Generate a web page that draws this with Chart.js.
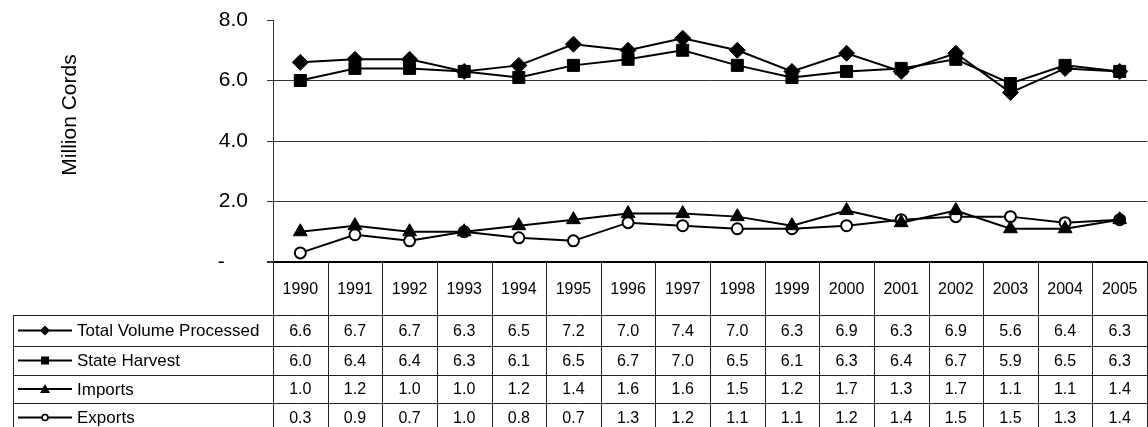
<!DOCTYPE html>
<html>
<head>
<meta charset="utf-8">
<script src="https://cdn.jsdelivr.net/npm/chart.js@4/dist/chart.umd.min.js"></script>
<style>
html,body{margin:0;padding:0;background:#fff;}
canvas{display:block;}
</style>
</head>
<body>
<canvas id="c" width="1148" height="427"></canvas>
<script>
const years = ['1990','1991','1992','1993','1994','1995','1996','1997','1998','1999','2000','2001','2002','2003','2004','2005'];
const totalVolume = [6.6,6.7,6.7,6.3,6.5,7.2,7.0,7.4,7.0,6.3,6.9,6.3,6.9,5.6,6.4,6.3];
const stateHarvest = [6.0,6.4,6.4,6.3,6.1,6.5,6.7,7.0,6.5,6.1,6.3,6.4,6.7,5.9,6.5,6.3];
const imports = [1.0,1.2,1.0,1.0,1.2,1.4,1.6,1.6,1.5,1.2,1.7,1.3,1.7,1.1,1.1,1.4];
const exportsData = [0.3,0.9,0.7,1.0,0.8,0.7,1.3,1.2,1.1,1.1,1.2,1.4,1.5,1.5,1.3,1.4];
const seriesNames = ['Total Volume Processed','State Harvest','Imports','Exports'];
const yTicks = [0,2,4,6,8];
const yTitle = 'Million Cords';

const FONT = '"Liberation Sans", Arial, sans-serif';
const seriesData = [totalVolume, stateHarvest, imports, exportsData];
const shapes = ['rectRot','rect','triangle','circle'];
const radii = [8, 8.5, 8, 5.5];

function drawShape(ctx, shape, x, y, s) {
  ctx.save();
  ctx.fillStyle = '#000';
  ctx.strokeStyle = '#000';
  ctx.beginPath();
  if (shape === 'rectRot') {
    ctx.moveTo(x, y - s); ctx.lineTo(x + s, y); ctx.lineTo(x, y + s); ctx.lineTo(x - s, y); ctx.closePath(); ctx.fill();
  } else if (shape === 'rect') {
    ctx.rect(x - s, y - s, 2 * s, 2 * s); ctx.fill();
  } else if (shape === 'triangle') {
    ctx.moveTo(x, y - s); ctx.lineTo(x + s, y + s * 0.8); ctx.lineTo(x - s, y + s * 0.8); ctx.closePath(); ctx.fill();
  } else {
    ctx.fillStyle = '#fff'; ctx.lineWidth = 1.6;
    ctx.arc(x, y, s, 0, Math.PI * 2); ctx.fill(); ctx.stroke();
  }
  ctx.restore();
}

const tablePlugin = {
  id: 'dataTable',
  afterDraw(chart) {
    const ctx = chart.ctx;
    const xs = chart.scales.x;
    const area = chart.chartArea;
    const half = (xs.getPixelForValue(1) - xs.getPixelForValue(0)) / 2;
    const top = area.bottom;
    const rowLines = [315, 346, 375, 403, 432];
    const headerBottom = rowLines[0];
    const bottom = 440;
    const leftX = 13;
    ctx.save();
    ctx.strokeStyle = '#222';
    ctx.lineWidth = 1;
    ctx.beginPath();
    for (let i = 0; i <= years.length; i++) {
      const x = Math.round(xs.getPixelForValue(i) - half) + 0.5;
      ctx.moveTo(x, top); ctx.lineTo(x, bottom);
    }
    ctx.moveTo(leftX + 0.5, headerBottom); ctx.lineTo(leftX + 0.5, bottom);
    for (let r = 0; r < 4; r++) {
      const y = rowLines[r] + 0.5;
      ctx.moveTo(leftX, y); ctx.lineTo(area.right + 1, y);
    }
    ctx.stroke();
    ctx.fillStyle = '#000';
    ctx.font = '16px ' + FONT;
    ctx.textAlign = 'center';
    ctx.textBaseline = 'middle';
    years.forEach((yr, i) => ctx.fillText(yr, xs.getPixelForValue(i), (top + headerBottom) / 2 + 1));
    seriesData.forEach((arr, r) => {
      const cy = (rowLines[r] + rowLines[r + 1]) / 2 + 1;
      ctx.font = '16px ' + FONT;
      ctx.textAlign = 'center';
      arr.forEach((v, i) => ctx.fillText(v.toFixed(1), xs.getPixelForValue(i), cy));
      ctx.save();
      ctx.strokeStyle = '#000'; ctx.lineWidth = 2;
      ctx.beginPath(); ctx.moveTo(18, cy - 1); ctx.lineTo(72, cy - 1); ctx.stroke();
      ctx.restore();
      const ks = [5, 4, 5, 3][r];
      drawShape(ctx, shapes[r], 45, cy - 1, ks);
      ctx.font = '17px ' + FONT;
      ctx.textAlign = 'left';
      ctx.fillText(seriesNames[r], 77, cy);
    });
    ctx.save();
    ctx.translate(70, 115);
    ctx.rotate(-Math.PI / 2);
    ctx.font = '21px ' + FONT;
    ctx.textAlign = 'center';
    ctx.textBaseline = 'middle';
    ctx.fillText(yTitle, 0, 0);
    ctx.restore();
    ctx.restore();
  }
};

new Chart(document.getElementById('c'), {
  type: 'line',
  data: {
    labels: years,
    datasets: seriesData.map((arr, i) => ({
      label: seriesNames[i],
      data: arr,
      borderColor: '#000',
      borderWidth: 2,
      pointStyle: shapes[i],
      pointRadius: radii[i],
      pointBackgroundColor: i === 3 ? '#fff' : '#000',
      pointBorderColor: '#000',
      pointBorderWidth: i === 3 ? 2 : 1,
      tension: 0,
      fill: false,
      clip: false
    }))
  },
  options: {
    responsive: false,
    animation: false,
    devicePixelRatio: 1,
    layout: { autoPadding: false, padding: { left: 0, top: 20, right: 1, bottom: 165 } },
    plugins: { legend: { display: false }, tooltip: { enabled: false } },
    scales: {
      x: { type: 'category', display: false, offset: true },
      y: {
        min: 0, max: 8,
        afterBuildTicks(scale) { scale.ticks = yTicks.map(v => ({ value: v })); },
        afterFit(scale) { scale.width = 273; scale.paddingTop = 0; scale.paddingBottom = 0; },
        border: { display: true, color: '#333', width: 1 },
        grid: {
          color: c => c.tick && c.tick.value === 8 ? 'rgba(0,0,0,0)' : (c.tick && c.tick.value === 0 ? '#000' : '#333'),
          lineWidth: c => c.tick && c.tick.value === 0 ? 2 : 1,
          tickColor: '#333',
          tickLength: 6,
          drawTicks: true
        },
        ticks: {
          padding: 19,
          color: '#000',
          font: { family: FONT, size: 21 },
          callback: v => v === 0 ? '-    ' : v.toFixed(1)
        }
      }
    }
  },
  plugins: [tablePlugin]
});
</script>
</body>
</html>
